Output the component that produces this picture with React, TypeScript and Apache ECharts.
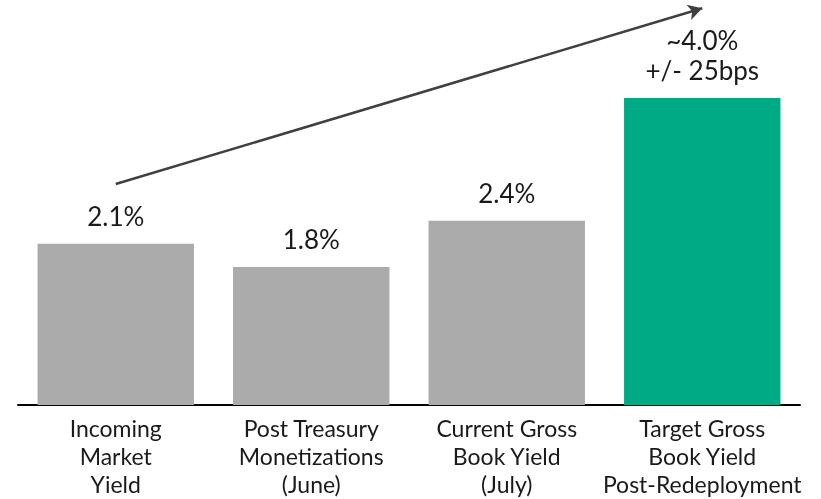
import React, { useEffect, useRef } from "react";
import * as echarts from "echarts";

const categories = [
  "Incoming\nMarket\nYield",
  "Post Treasury\nMonetizations\n(June)",
  "Current Gross\nBook Yield\n(July)",
  "Target Gross\nBook Yield\nPost-Redeployment",
];
const values = [2.1, 1.8, 2.4, 4.0];
const valueLabels = ["2.1%", "1.8%", "2.4%", "~4.0%\n+/- 25bps"];
const barColors = ["#ABABAB", "#ABABAB", "#ABABAB", "#00AA84"];
const arrowStart = [0, 2.88];
const arrowEnd = [3, 5.17];

export default function App() {
  const ref = useRef<HTMLDivElement>(null);
  useEffect(() => {
    if (!ref.current) return;
    const chart = echarts.init(ref.current, null, { renderer: "svg" });
    chart.setOption({
      animation: false,
      grid: { left: 18, right: 21, top: 6, bottom: 94, containLabel: false },
      xAxis: {
        type: "category",
        data: categories,
        axisLine: { show: true, lineStyle: { color: "#000", width: 2 } },
        axisTick: { show: false },
        axisLabel: {
          color: "#1a1a1a",
          fontFamily: "Lato",
          fontWeight: 400,
          fontSize: 23,
          lineHeight: 28,
          margin: 9,
          interval: 0,
        },
      },
      yAxis: {
        type: "value",
        min: 0,
        max: 5.2,
        show: false,
        splitLine: { show: false },
      },
      series: [
        {
          type: "bar",
          barCategoryGap: "20%",
          data: values.map((v, i) => ({
            value: v,
            itemStyle: { color: barColors[i] },
            label: { formatter: valueLabels[i] },
          })),
          label: {
            show: true,
            position: "top",
            distance: 13,
            color: "#1a1a1a",
            fontFamily: "Lato",
            fontWeight: 400,
            fontSize: 26,
            lineHeight: 30,
          },
          markLine: {
            silent: true,
            symbol: ["none", "arrow"],
            symbolSize: [12, 14],
            label: { show: false },
            lineStyle: { color: "#404040", width: 2.5, type: "solid" },
            data: [[{ coord: arrowStart }, { coord: arrowEnd }]],
          },
        },
      ],
    });
    return () => chart.dispose();
  }, []);
  return (
    <div
      ref={ref}
      style={{ position: "fixed", left: 0, top: 0, width: 821, height: 499 }}
    />
  );
}
